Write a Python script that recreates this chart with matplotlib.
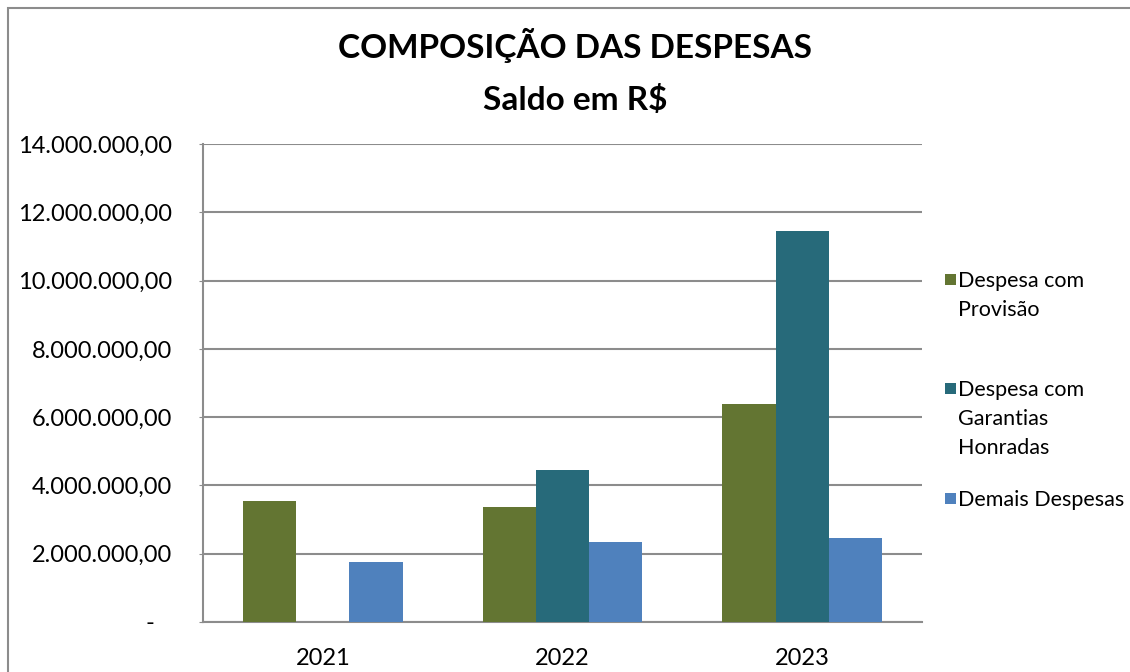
import matplotlib
matplotlib.use("Agg")
import matplotlib.pyplot as plt
import numpy as np
from matplotlib.patches import Rectangle
from matplotlib.ticker import FuncFormatter

plt.rcParams["font.family"] = ["Lato", "DejaVu Sans"]

# data (R$)
years = ["2021", "2022", "2023"]
series_names = ["Despesa com\nProvisão", "Despesa com\nGarantias\nHonradas", "Demais Despesas"]
provisao = [3_550_000, 3_370_000, 6_380_000]
garantias = [0, 4_450_000, 11_460_000]
demais = [1_750_000, 2_340_000, 2_470_000]
colors = ["#637532", "#276A7A", "#4F81BD"]

W, H = 1130, 672
fig = plt.figure(figsize=(W / 100, H / 100), dpi=100)
fig.patch.set_facecolor("white")

# outer chart border
fig.patches.append(Rectangle((8 / W, -0.05), 1.2, 1 - 8 / H + 0.05, transform=fig.transFigure,
                             fill=False, edgecolor="#8c8c8c", linewidth=1.5))

ax = fig.add_axes([203 / W, (H - 622) / H, (922 - 203) / W, (622 - 144) / H])

x = np.arange(len(years))
width = 0.222
for i, (vals, col) in enumerate(zip([provisao, garantias, demais], colors)):
    ax.bar(x + (i - 1) * width, vals, width, color=col, zorder=3)

ax.set_xlim(-0.5, len(years) - 0.5)
ax.set_ylim(0, 14_000_000)
ax.set_yticks(np.arange(0, 14_000_001, 2_000_000))


def br_fmt(v, pos):
    if v == 0:
        return "-   "
    return f"{v:,.2f}".replace(",", "X").replace(".", ",").replace("X", ".")


ax.yaxis.set_major_formatter(FuncFormatter(br_fmt))
ax.set_xticks(x)
ax.set_xticklabels(years)
ax.grid(axis="y", color="#8c8c8c", linewidth=1.5, zorder=0)
for s in ["top", "right"]:
    ax.spines[s].set_visible(False)
for s in ["left", "bottom"]:
    ax.spines[s].set_color("#8c8c8c")
    ax.spines[s].set_linewidth(1.5)
ax.tick_params(axis="y", length=3, color="#8c8c8c", labelsize=17, pad=19)
ax.tick_params(axis="x", length=0, labelsize=17, pad=19)

fig.text(575 / W, 1 - 45 / H, "COMPOSIÇÃO DAS DESPESAS", ha="center", va="center",
         fontsize=24, fontweight="bold")
fig.text(575 / W, 1 - 100 / H, "Saldo em R$", ha="center", va="center",
         fontsize=24, fontweight="bold")

# legend, entries evenly spaced like the original
leg_y = [279, 388, 498]
for name, col, yy in zip(series_names, colors, leg_y):
    fig.patches.append(Rectangle((945 / W, 1 - (yy + 6) / H), 11 / W, 11 / H,
                                 transform=fig.transFigure, facecolor=col, edgecolor="none"))
    fig.text(958 / W, 1 - (yy - 8) / H, name, ha="left", va="top",
             fontsize=15.5, linespacing=1.55)

fig.savefig("out.png", dpi=100)
